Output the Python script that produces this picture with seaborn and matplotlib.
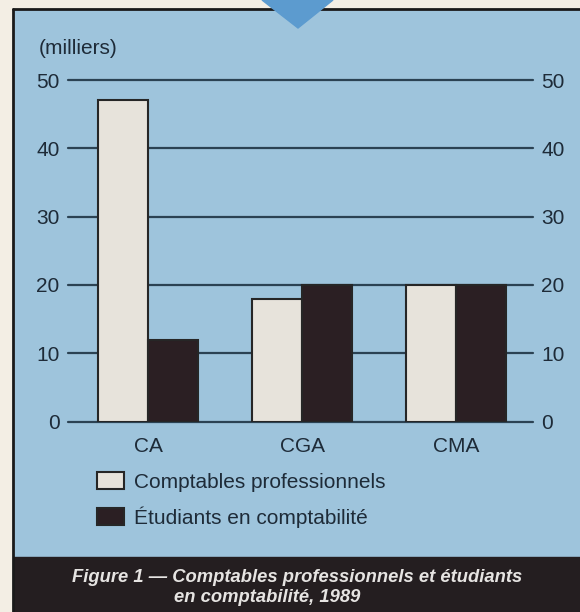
import matplotlib
matplotlib.use("Agg")
import matplotlib.pyplot as plt
import seaborn as sns
import pandas as pd
from matplotlib.patches import Rectangle, Polygon
from matplotlib.lines import Line2D

# data (thousands)
categories = ["CA", "CGA", "CMA"]
comptables = [47, 18, 20]
etudiants = [12, 20, 20]
series_names = ["Comptables professionnels", "Étudiants en comptabilité"]
y_ticks = [0, 10, 20, 30, 40, 50]
caption_1 = "Figure 1 — Comptables professionnels et étudiants"
caption_2 = "en comptabilité, 1989"

sns.set_style("white")
plt.rcParams['font.family'] = ['Liberation Sans', 'DejaVu Sans']

BEIGE = "#f3eee4"
BLUE = "#9ec4dc"
DARK = "#241e20"
GRID = "#2b4253"
TEXT = "#1e2b38"
LIGHT_BAR = "#e7e3db"
DARK_BAR = "#2b1f23"
FS = 15

W, H = 580, 612
fig = plt.figure(figsize=(W / 100, H / 100), dpi=100, facecolor=BEIGE)


def fx(px):
    return px / W


def fy(py):
    return 1 - py / H


# panel background, caption band, frame and the blue pointer (behind the axes)
fig.patches.append(Rectangle((fx(14), fy(557)), 1 - fx(14), fy(10) - fy(557),
                             transform=fig.transFigure, color=BLUE, zorder=-3))
fig.patches.append(Rectangle((fx(14), 0), 1 - fx(14), fy(557),
                             transform=fig.transFigure, color=DARK, zorder=-3))
fig.lines.append(Line2D([fx(13), 1], [fy(9), fy(9)], transform=fig.transFigure,
                        color="#1a1a1a", lw=2, zorder=-2))
fig.lines.append(Line2D([fx(13), fx(13)], [0, fy(9)], transform=fig.transFigure,
                        color="#1a1a1a", lw=2, zorder=-2))
fig.patches.append(Polygon([(fx(262), 1), (fx(333), 1), (fx(298), fy(28))],
                           closed=True, transform=fig.transFigure,
                           color="#5c9bcf", zorder=-1))

df = pd.DataFrame({
    "cat": categories * 2,
    "val": comptables + etudiants,
    "serie": [series_names[0]] * 3 + [series_names[1]] * 3,
})

ax = fig.add_axes([fx(68), fy(421.5), fx(533) - fx(68), fy(80) - fy(421.5)])
ax.set_facecolor("none")
sns.barplot(data=df, x="cat", y="val", hue="serie", ax=ax,
            palette=[LIGHT_BAR, DARK_BAR], width=0.655, gap=0,
            edgecolor="#262626", linewidth=1.5, saturation=1, zorder=3)

for t in y_ticks:
    ax.axhline(t, color=GRID, lw=1.6, zorder=1, clip_on=False)

ax.set_xlim(-0.52, 2.5)
ax.set_ylim(0, 50)
ax.set_yticks(y_ticks)
ax.set_xlabel("")
ax.set_ylabel("")
for s in ax.spines.values():
    s.set_visible(False)
ax.tick_params(axis="y", length=0, labelsize=FS, labelcolor=TEXT,
               left=False, right=False, labelleft=True, labelright=True, pad=6)
ax.tick_params(axis="x", length=0, labelsize=FS, labelcolor=TEXT, pad=11)

fig.text(fx(39), fy(49), "(milliers)", fontsize=FS, color=TEXT, va="center")

handles, labels = ax.get_legend_handles_labels()
ax.legend(handles, labels, loc="upper left",
          bbox_to_anchor=(fx(97), fy(472)), bbox_transform=fig.transFigure,
          frameon=False, fontsize=FS, labelcolor=TEXT, borderpad=0,
          borderaxespad=0, handlelength=1.3, handleheight=0.9,
          handletextpad=0.5, labelspacing=0.7)

fig.text(fx(297), fy(577), caption_1, fontsize=13.2, color="#e6e4e2",
         style="italic", weight="bold", ha="center", va="center")
fig.text(fx(267), fy(598), caption_2, fontsize=13.2, color="#e6e4e2",
         style="italic", weight="bold", ha="center", va="center")

fig.savefig("out.png", dpi=100, facecolor=BEIGE)
